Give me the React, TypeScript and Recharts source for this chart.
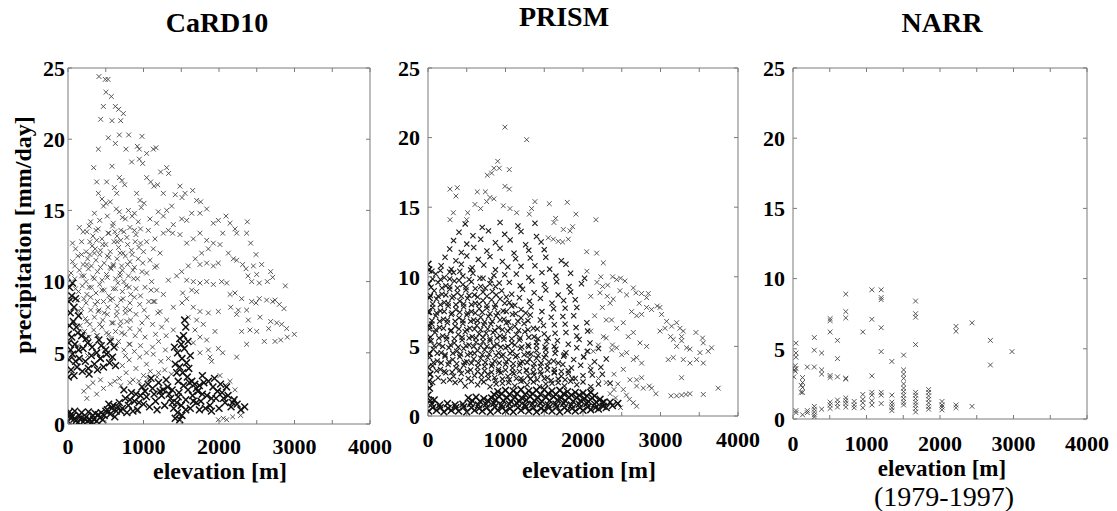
import { ScatterChart, Scatter, XAxis, YAxis } from "recharts";

const W = 1117;
const H = 511;
const AXIS = "#7a7a7a";
const SERIF = '"Liberation Serif", "Times New Roman", serif';

type Pt = [number, number];

const xTicks = [0, 500, 1000, 1500, 2000, 2500, 3000, 3500, 4000];
const yTicks = [0, 5, 10, 15, 20, 25];
const titles = ["CaRD10", "PRISM", "NARR"];
const yTitle = "precipitation [mm/day]";
const xTitle = "elevation [m]";
const period = "(1979-1997)";

// CaRD10: sparse upper fan and right tail
const card10Peak: Pt[] = [
  [410, 24.4], [494, 24.2], [530, 24.2], [503, 23.3], [574, 23.0], [468, 22.3], [627, 22.3], [671, 22.1],
  [733, 21.8], [433, 21.4], [583, 21.3], [698, 21.3], [680, 20.3], [804, 20.3], [980, 20.2], [534, 20.1],
  [627, 19.7], [768, 19.3], [402, 19.3], [918, 19.5], [945, 19.3], [1042, 19.0], [1130, 19.3], [1166, 19.4],
  [843, 18.4], [945, 18.6], [989, 18.3], [340, 18.0], [583, 18.1], [380, 17.0], [512, 17.0], [680, 17.3],
  [715, 17.1], [750, 16.8], [402, 16.2], [450, 15.8], [503, 15.5], [614, 16.6], [645, 16.2], [1042, 17.3],
  [1095, 17.0], [1139, 16.7], [1188, 16.8], [1307, 18.0], [1333, 17.6], [1227, 17.7], [909, 16.2], [954, 15.7],
  [1007, 15.5], [1483, 16.7], [1550, 16.2], [1510, 15.9], [1651, 16.4], [1704, 15.7], [1757, 15.6], [1421, 16.1],
  [1373, 15.3], [1263, 16.2],
];

const card10Tail: Pt[] = [
  [1925, 14.1], [1991, 14.3], [2093, 14.6], [2146, 14.1], [2212, 13.7], [2375, 14.2], [2234, 13.4], [2366, 13.4],
  [2419, 12.7], [2049, 13.4], [2013, 12.6], [2124, 12.0], [2190, 11.6], [2234, 11.5], [2313, 11.2], [2490, 11.9],
  [2358, 10.9], [2455, 11.1], [2565, 11.2], [2684, 10.7], [2384, 10.4], [2499, 10.5], [2433, 10.0], [2534, 9.9],
  [2640, 10.0], [2711, 10.3], [2879, 9.7], [2035, 10.0], [2102, 9.9], [2146, 9.1], [2212, 9.2], [2300, 8.8],
  [2433, 8.6], [2490, 8.5], [2534, 8.8], [2631, 8.7], [2711, 8.6], [2742, 8.7], [2799, 8.4], [2861, 8.1],
  [2155, 8.2], [2256, 8.0], [2366, 8.0], [1991, 7.9], [2234, 7.7], [2388, 7.3], [2543, 7.5], [2684, 7.2],
  [2764, 7.1], [2830, 7.0], [2896, 6.7], [2300, 6.5], [2410, 6.6], [2499, 6.5], [2658, 6.7], [2905, 6.1],
  [2998, 6.3], [2600, 5.8], [2742, 5.8], [2817, 5.9], [2366, 5.6], [1947, 6.5], [2234, 4.7], [1991, 5.3],
  [2049, 5.0], [1903, 4.4], [1859, 5.2], [2013, 3.4], [2146, 3.0], [2212, 2.4], [2084, 2.7], [1991, 0.3],
  [2057, 0.4], [2102, 0.3], [2181, 0.5], [2287, 0.6], [918, 0.9], [1748, 14.8], [1837, 15.1], [1638, 14.8],
  [1572, 14.3], [1506, 14.4], [1395, 14.0], [1386, 13.4], [1329, 13.6], [1263, 13.4], [1483, 13.3], [1572, 12.7],
  [1660, 13.0], [1748, 13.4], [1837, 12.9], [1925, 12.7], [1859, 12.3], [1770, 12.0], [1686, 11.6], [1748, 11.2],
  [1837, 11.3], [1925, 11.1], [1991, 11.3], [1594, 11.1], [1506, 10.7], [1439, 10.4], [1329, 10.1], [1572, 10.1],
  [1660, 10.0], [1748, 9.9], [1837, 10.0], [1925, 9.8], [1638, 9.4], [1704, 9.3], [1519, 9.2], [1572, 8.8],
  [1510, 8.5], [1395, 8.2], [1660, 8.2], [1748, 7.9], [1859, 7.8], [1594, 7.5], [1704, 7.3], [1792, 7.0],
  [1682, 6.6], [1748, 6.1], [1660, 5.7], [1837, 5.9], [1748, 5.0], [1881, 4.7], [1395, 6.6], [1307, 7.3],
  [1219, 7.9], [1130, 8.6], [1174, 9.4], [1263, 9.1], [1108, 10.0], [1042, 10.6], [1174, 11.1], [1086, 11.5],
  [1219, 12.0], [1130, 12.3], [1042, 12.8], [1152, 13.0], [1064, 13.6], [1174, 14.1], [1263, 14.6], [1307, 15.0],
  [1196, 14.9], [1086, 14.4],
];

// CaRD10: main cloud below 15 mm/day
const card10Cloud: Pt[] = [
  [350, 14.8], [420, 14.3], [520, 14.6], [600, 14.1], [680, 14.9], [760, 14.4], [850, 14.6], [930, 14.2],
  [300, 14.2], [470, 15.3], [560, 15.6], [640, 15.1], [720, 14.5], [800, 15.0], [880, 14.8], [970, 15.2],
  [150, 13.8], [250, 13.5], [330, 13.2], [400, 13.7], [450, 13.0], [530, 13.4], [590, 13.9], [650, 13.2],
  [700, 13.6], [780, 13.1], [820, 13.8], [900, 13.3], [960, 13.7], [280, 13.9], [620, 13.5],
  [100, 12.3], [180, 12.8], [240, 12.1], [320, 12.5], [380, 12.9], [430, 12.2], [500, 12.6], [560, 12.1],
  [610, 12.8], [670, 12.4], [730, 12.0], [790, 12.6], [840, 12.2], [890, 12.8], [940, 12.4], [1000, 12.1],
  [360, 12.3], [700, 12.9], [60, 11.4], [130, 11.8], [200, 11.2], [260, 11.6], [310, 11.1], [370, 11.5],
  [420, 11.9], [480, 11.3], [540, 11.7], [600, 11.2], [650, 11.6], [710, 11.1], [760, 11.8], [820, 11.4],
  [880, 11.0], [930, 11.6], [990, 11.3], [290, 11.9], [560, 11.0], [40, 10.6], [90, 10.2], [150, 10.8],
  [210, 10.4], [270, 10.9], [330, 10.3], [390, 10.7], [450, 10.1], [510, 10.5], [570, 10.9], [630, 10.2],
  [690, 10.6], [740, 10.0], [800, 10.4], [860, 10.8], [920, 10.2], [980, 10.7], [240, 10.0], [720, 10.8],
  [140, 9.3], [190, 9.7], [250, 9.1], [310, 9.6], [370, 9.2], [420, 9.8], [480, 9.4], [540, 9.0],
  [600, 9.5], [660, 9.9], [720, 9.3], [770, 9.7], [830, 9.1], [900, 9.5], [960, 9.0], [1020, 9.6],
  [130, 8.7], [180, 8.1], [240, 8.5], [300, 8.9], [360, 8.4], [410, 8.0], [470, 8.6], [530, 8.2],
  [590, 8.8], [650, 8.3], [700, 8.7], [760, 8.1], [820, 8.5], [880, 8.9], [950, 8.4], [1010, 8.0],
  [1070, 8.6], [170, 7.8], [230, 7.4], [290, 7.0], [350, 7.5], [400, 7.9], [460, 7.3], [520, 7.7],
  [580, 7.1], [640, 7.6], [700, 7.2], [760, 7.8], [830, 7.3], [900, 7.7], [980, 7.1], [1050, 7.5],
  [160, 6.9], [220, 6.5], [280, 6.1], [340, 6.6], [390, 6.2], [450, 6.8], [510, 6.4], [570, 6.0],
  [630, 6.5], [690, 6.9], [750, 6.3], [820, 6.7], [890, 6.2], [950, 6.6], [1020, 6.1], [1160, 6.3],
  [1240, 6.8], [670, 5.8], [740, 5.2], [810, 5.6], [880, 5.1], [960, 5.5], [1040, 5.0], [1120, 5.4],
  [1200, 5.8], [1290, 5.2], [680, 3.2], [720, 4.1], [770, 3.6], [810, 4.5], [860, 3.1], [900, 3.9],
  [950, 4.7], [1000, 3.4], [1040, 4.2], [1090, 3.7], [1130, 4.9], [1180, 3.3], [1230, 4.4], [1280, 3.8],
  [1330, 4.6], [1370, 3.5], [700, 2.7], [820, 2.9], [940, 3.0], [1060, 3.2], [1200, 3.6], [250, 1.8],
  [270, 2.6], [210, 2.3], [330, 2.9], [380, 2.1], [430, 3.1], [470, 2.5], [560, 2.8], [620, 3.0],
];

// CaRD10: second pass over the darker low-elevation cloud
const card10CloudB: Pt[] = [
  [200, 13.5], [370, 13.6], [540, 13.4], [740, 13.5], [880, 13.6], [60, 12.7], [290, 12.8], [460, 12.6],
  [650, 12.8], [960, 12.7], [180, 11.9], [350, 12.0], [520, 11.8], [690, 12.0], [850, 11.9], [90, 11.1],
  [250, 11.2], [430, 11.0], [600, 11.1], [790, 11.2], [1150, 11.0], [0, 10.3], [180, 10.4], [350, 10.2],
  [520, 10.3], [690, 10.4], [870, 10.2], [100, 9.5], [280, 9.6], [450, 9.4], [630, 9.5], [810, 9.6],
  [1100, 9.4], [40, 8.7], [210, 8.8], [390, 8.6], [560, 8.7], [730, 8.8], [1150, 8.6], [120, 7.9],
  [300, 8.0], [480, 7.8], [650, 7.9], [820, 8.0], [1190, 7.8], [70, 7.1], [250, 7.2], [420, 7.0],
  [600, 7.1], [780, 7.2], [1120, 7.0], [0, 6.3], [200, 6.4], [380, 6.2], [540, 6.3], [710, 6.4],
  [1300, 6.2], [130, 5.5], [300, 5.6], [480, 5.4], [640, 5.5], [820, 5.6], [60, 4.7], [260, 4.8],
  [420, 4.6], [580, 4.7], [760, 4.8],
];

// CaRD10: black clusters (low band, rising band, left column, spike)
const card10Dense: Pt[] = [
  [0, 0.2], [60, 0.55], [20, 0.85], [110, 0.25], [150, 0.6], [90, 0.9], [200, 0.15], [240, 0.5],
  [180, 0.8], [290, 0.3], [330, 0.6], [270, 0.85], [380, 0.2], [420, 0.45], [360, 0.75], [460, 0.3],
  [40, 0.4], [130, 0.1], [220, 0.35], [310, 0.1], [480, 0.6], [520, 1.0], [560, 0.7], [600, 1.3],
  [640, 0.9], [680, 1.5], [540, 1.4], [620, 0.5], [720, 1.1], [760, 1.8], [800, 1.3], [840, 2.2],
  [880, 1.6], [920, 1.0], [960, 2.0], [1000, 1.4], [740, 2.4], [860, 0.9], [980, 2.6], [780, 0.8],
  [1040, 1.9], [1080, 1.2], [1120, 2.5], [1160, 1.6], [1200, 2.9], [1240, 2.0], [1280, 1.3], [1320, 2.6],
  [1360, 1.8], [1400, 1.1], [1060, 2.8], [1180, 1.0], [1300, 3.1], [1380, 2.4], [1100, 3.2], [1220, 2.3],
  [1420, 0.4], [1450, 0.8], [1480, 0.3], [1510, 0.6], [1440, 1.5], [1470, 2.2], [1500, 1.3], [1530, 2.7],
  [1560, 1.7], [1590, 2.4], [1620, 1.1], [1650, 2.0], [1680, 2.8], [1460, 3.0], [1520, 3.6], [1580, 3.3],
  [1640, 3.0], [1700, 1.5], [1420, 4.2], [1450, 5.0], [1480, 4.0], [1510, 4.6], [1540, 5.3], [1570, 4.3],
  [1600, 3.9], [1440, 3.6], [1500, 5.6], [1530, 6.2], [1560, 6.8], [1545, 7.3], [1590, 5.8], [1620, 4.8],
  [1480, 6.0], [1410, 5.4], [1720, 2.3], [1760, 1.6], [1800, 2.9], [1840, 2.0], [1880, 1.3], [1920, 2.6],
  [1960, 1.8], [2000, 1.1], [2040, 2.2], [2080, 1.5], [2120, 2.0], [2160, 1.2], [2200, 1.7], [2240, 1.4],
  [2290, 1.0], [2340, 1.2], [1780, 3.4], [1860, 3.0], [1940, 3.2], [2020, 2.8], [1900, 0.9], [2100, 2.6],
  [1740, 1.0], [1820, 1.1], [5, 3.3], [40, 3.8], [80, 3.4], [120, 4.0], [15, 4.5], [60, 4.9],
  [100, 4.4], [140, 5.2], [10, 5.7], [50, 6.1], [90, 5.6], [130, 6.4], [20, 6.9], [70, 7.2],
  [110, 6.8], [30, 7.8], [80, 8.2], [10, 8.6], [50, 9.0], [100, 8.8], [20, 9.6], [60, 9.9],
  [140, 7.6], [5, 6.3], [35, 5.2], [150, 4.6], [190, 3.7], [230, 4.4], [270, 3.9], [310, 4.8],
  [350, 4.2], [390, 3.8], [430, 4.6], [470, 4.0], [510, 4.9], [550, 4.3], [590, 4.7], [630, 4.1],
  [200, 5.3], [260, 5.7], [320, 5.4], [380, 5.0], [440, 5.5], [500, 5.2], [560, 5.8], [280, 3.5],
  [410, 5.9], [610, 5.4], [180, 6.2], [240, 6.0],
  [30, 0.6], [80, 0.35], [170, 0.4], [260, 0.2], [340, 0.35], [400, 0.65], [440, 0.8], [500, 0.9],
  [580, 1.1], [660, 1.2], [700, 0.9], [820, 1.7], [900, 2.1], [940, 1.5], [1020, 2.3], [1140, 2.1],
  [1260, 2.4], [1340, 2.1], [1560, 1.0], [1660, 1.6], [1700, 2.5], [1780, 2.1], [1900, 1.8], [1980, 2.3],
  [2060, 1.8], [2180, 1.5], [1380, 1.5], [1460, 1.9], [1610, 2.9], [1740, 2.7],
];

// PRISM: outliers and right tail
const prismSparse: Pt[] = [
  [993, 20.75], [1273, 19.85], [899, 18.3], [851, 17.8], [920, 17.8], [765, 17.3], [821, 17.45], [1049, 17.7],
  [993, 16.5], [1049, 16.3], [284, 16.3], [378, 16.4], [361, 15.8], [636, 16.1], [740, 16.1], [800, 15.7],
  [757, 15.4], [851, 15.6], [679, 14.9], [606, 15.2], [512, 14.6], [499, 14.1], [327, 14.6], [284, 14.1],
  [972, 15.1], [1058, 14.9], [1144, 14.6], [1380, 15.4], [1337, 14.9], [1307, 14.5], [1565, 15.25], [1797, 15.35],
  [1909, 14.5], [2167, 14.1], [1647, 14.2], [1625, 13.9], [1746, 13.4], [1832, 13.3], [1866, 13.6], [1810, 12.7],
  [1552, 12.8], [1617, 12.7], [1681, 12.55], [1737, 12.5], [2047, 11.8], [2176, 11.7], [2262, 11.0],
  [2382, 10.0], [2434, 9.8], [2485, 9.9], [2541, 9.7], [2318, 9.4], [2253, 9.3], [2219, 8.85], [2313, 8.6],
  [2390, 8.4], [2477, 9.0], [2563, 8.7], [2649, 9.2], [2683, 8.85], [2756, 8.8], [2821, 8.5], [2843, 8.8],
  [2726, 8.1], [2821, 7.8], [2885, 7.65], [2958, 7.9], [2993, 7.8], [2627, 7.5], [2692, 7.2], [2756, 7.3],
  [3014, 7.3], [3079, 6.8], [3143, 6.45], [3208, 6.7], [3251, 6.3], [3294, 6.1], [2993, 6.1], [3058, 6.3],
  [3130, 5.7], [3272, 5.7], [3272, 5.4], [3208, 5.0], [3165, 5.5], [3337, 4.9], [3380, 4.8], [3457, 6.0],
  [3543, 5.6], [3552, 5.25], [3659, 4.9], [3616, 4.65], [3509, 4.55], [3100, 4.05], [3165, 4.2], [3294, 4.05],
  [3380, 3.8], [3466, 4.05], [3552, 3.8], [3272, 2.75], [3135, 1.45], [3208, 1.45], [3272, 1.5], [3328, 1.55],
  [3380, 1.6], [3552, 1.55], [3745, 2.0], [2885, 2.0], [2941, 1.6], [2692, 2.15], [2778, 2.0], [2855, 2.15],
  [2649, 0.95], [2692, 0.7], [2485, 0.6], [2649, 4.05], [2692, 4.2], [2756, 3.8], [2563, 4.55], [2499, 4.4],
  [2434, 4.9], [2370, 4.75], [2520, 3.35], [2606, 2.6], [2692, 2.6], [2756, 2.75], [2584, 5.7], [2649, 6.0],
  [2735, 5.25], [2821, 5.0], [2520, 6.7], [2434, 6.3], [2369, 6.9], [2262, 5.7], [2198, 5.1], [2133, 4.65],
  [2047, 4.65], [2004, 4.2], [2090, 3.6], [2400, 3.0], [2450, 2.3], [2520, 1.9], [2560, 1.5], [2600, 1.2],
  [2350, 1.6], [2420, 1.3], [2100, 8.6], [2180, 9.6], [2250, 7.8], [2300, 6.9], [2150, 7.2], [2350, 8.1],
  [2050, 10.4], [2230, 10.0], [2100, 6.1], [2300, 5.6], [2380, 5.1], [2200, 2.7], [2300, 2.4], [2100, 1.9],
  [2400, 1.9],
];

// PRISM: main cloud
const prismCloud: Pt[] = [
  [60, 2.4], [480, 2.15], [560, 2.5], [640, 2.25], [720, 2.45], [800, 2.1], [880, 2.3], [960, 2.35],
  [1040, 2.4], [1120, 2.15], [1200, 2.5], [1280, 2.25], [1360, 2.45], [1440, 2.1], [1520, 2.3], [1600, 2.35],
  [1680, 2.4], [1760, 2.15], [1840, 2.5], [1920, 2.25], [2000, 2.45], [2100, 2.1], [2200, 2.3], [2350, 2.35],
  [30, 3.0], [130, 2.75], [230, 3.1], [330, 2.85], [430, 3.05], [520, 2.7], [600, 2.9], [690, 2.95],
  [770, 3.0], [860, 2.75], [940, 3.1], [1030, 2.85], [1110, 3.05], [1200, 2.7], [1290, 2.9], [1370, 2.95],
  [1460, 3.0], [1540, 2.75], [1630, 3.1], [1720, 2.85], [1810, 3.05], [1900, 2.7], [2000, 2.9], [2120, 2.95],
  [2250, 3.0], [60, 3.6], [160, 3.35], [260, 3.7], [360, 3.45], [460, 3.65], [550, 3.3], [640, 3.5],
  [730, 3.55], [820, 3.6], [910, 3.35], [1000, 3.7], [1090, 3.45], [1180, 3.65], [1270, 3.3], [1360, 3.5],
  [1450, 3.55], [1540, 3.6], [1630, 3.35], [1740, 3.7], [1850, 3.45], [1970, 3.65], [2100, 3.3], [2230, 3.5],
  [20, 4.2], [120, 3.95], [220, 4.3], [320, 4.05], [410, 4.25], [500, 3.9], [590, 4.1], [680, 4.15],
  [770, 4.2], [860, 3.95], [950, 4.3], [1040, 4.05], [1130, 4.25], [1220, 3.9], [1310, 4.1], [1400, 4.15],
  [1500, 4.2], [1620, 3.95], [1750, 4.3], [1880, 4.05], [2010, 4.25], [2150, 3.9], [2300, 4.1],
  [70, 4.8], [170, 4.55], [270, 4.9], [370, 4.65], [460, 4.85], [550, 4.5], [640, 4.7], [730, 4.75],
  [820, 4.8], [910, 4.55], [1000, 4.9], [1090, 4.65], [1190, 4.85], [1290, 4.5], [1400, 4.7], [1520, 4.75],
  [1650, 4.8], [1780, 4.55], [1920, 4.9], [2060, 4.65], [2200, 4.85], [40, 5.4], [140, 5.15], [240, 5.5],
  [340, 5.25], [440, 5.45], [530, 5.1], [620, 5.3], [710, 5.35], [800, 5.4], [890, 5.15], [980, 5.5],
  [1080, 5.25], [1180, 5.45], [1290, 5.1], [1400, 5.3], [1530, 5.35], [1670, 5.4], [1810, 5.15], [1950, 5.5],
  [2090, 5.25], [90, 6.0], [190, 5.75], [290, 6.1], [390, 5.85], [480, 6.05], [570, 5.7], [660, 5.9],
  [750, 5.95], [840, 6.0], [930, 5.75], [1030, 6.1], [1140, 5.85], [1250, 6.05], [1370, 5.7], [1500, 5.9],
  [1640, 5.95], [1780, 6.0], [1920, 5.75], [2060, 6.1], [50, 6.6], [150, 6.35], [250, 6.7], [350, 6.45],
  [450, 6.65], [540, 6.3], [630, 6.5], [720, 6.55], [810, 6.6], [910, 6.35], [1010, 6.7], [1120, 6.45],
  [1240, 6.65], [1360, 6.3], [1490, 6.5], [1630, 6.55], [1770, 6.6], [1910, 6.35], [2050, 6.7],
  [100, 7.2], [200, 6.95], [300, 7.3], [400, 7.05], [500, 7.25], [590, 6.9], [680, 7.1], [780, 7.15],
  [880, 7.2], [980, 6.95], [1090, 7.3], [1200, 7.05], [1320, 7.25], [1450, 6.9], [1590, 7.1], [1740, 7.15],
  [1880, 7.2], [60, 7.8], [160, 7.55], [260, 7.9], [360, 7.65], [460, 7.85], [560, 7.5], [660, 7.7],
  [760, 7.75], [860, 7.8], [970, 7.55], [1080, 7.9], [1200, 7.65], [1330, 7.85], [1470, 7.5], [1620, 7.7],
  [1770, 7.75], [1920, 7.8], [110, 8.4], [210, 8.15], [310, 8.5], [410, 8.25], [510, 8.45], [610, 8.1],
  [710, 8.3], [820, 8.35], [930, 8.4], [1050, 8.15], [1180, 8.5], [1310, 8.25], [1450, 8.45], [1600, 8.1],
  [1750, 8.3], [1900, 8.35], [80, 9.0], [180, 8.75], [280, 9.1], [380, 8.85], [490, 9.05], [600, 8.7],
  [710, 8.9], [830, 8.95], [950, 9.0], [1080, 8.75], [1220, 9.1], [1370, 8.85], [1520, 9.05], [1680, 8.7],
  [1840, 8.9], [130, 9.6], [230, 9.35], [340, 9.7], [450, 9.45], [560, 9.65], [680, 9.3], [800, 9.5],
  [920, 9.55], [1050, 9.6], [1190, 9.35], [1340, 9.7], [1500, 9.45], [1660, 9.65], [1820, 9.3], [1980, 9.5],
  [100, 10.2], [210, 9.95], [330, 10.3], [450, 10.05], [580, 10.25], [710, 9.9], [850, 10.1], [990, 10.15],
  [1140, 10.2], [1300, 9.95], [1470, 10.3], [1650, 10.05], [1840, 10.25], [2020, 9.9], [170, 10.8], [300, 10.55],
  [430, 10.9], [570, 10.65], [720, 10.85], [870, 10.5], [1030, 10.7], [1200, 10.75], [1380, 10.8], [1570, 10.55],
  [1780, 10.9], [220, 11.4], [360, 11.15], [500, 11.5], [650, 11.25], [800, 11.45], [960, 11.1], [1130, 11.3],
  [1320, 11.35], [1520, 11.4], [1720, 11.15], [280, 12.0], [430, 11.75], [590, 12.1], [760, 11.85], [930, 12.05],
  [1110, 11.7], [1300, 11.9], [1500, 11.95], [330, 12.6], [500, 12.35], [680, 12.7], [870, 12.45], [1060, 12.65],
  [1260, 12.3], [1460, 12.5], [400, 13.2], [580, 12.95], [780, 13.3], [990, 13.05], [1200, 13.25], [1400, 12.9],
  [480, 13.8], [700, 13.55], [930, 13.9], [1160, 13.65], [1380, 13.85],
];

// PRISM: second pass filling the mid-elevation part of the cloud
const prismCloudB: Pt[] = [
  [690, 2.6], [780, 2.7], [870, 2.55], [960, 2.65], [1050, 2.6], [1140, 2.7], [1230, 2.55], [1320, 2.65],
  [1410, 2.6], [1500, 2.7], [1590, 2.55], [1680, 2.65], [1770, 2.6], [1860, 2.7],
  [640, 3.2], [730, 3.25], [820, 3.15], [910, 3.2], [1000, 3.3], [1090, 3.15], [1180, 3.2], [1270, 3.25],
  [1360, 3.15], [1450, 3.2], [1540, 3.3], [1630, 3.15], [1720, 3.2], [1810, 3.25],
  [650, 3.8], [740, 3.85], [830, 3.75], [920, 3.8], [1010, 3.9], [1100, 3.75], [1190, 3.8], [1280, 3.85],
  [1370, 3.75], [1460, 3.8], [1560, 3.9], [1680, 3.8],
  [700, 4.4], [790, 4.45], [880, 4.35], [970, 4.4], [1060, 4.5], [1150, 4.35], [1240, 4.4], [1330, 4.45],
  [1420, 4.35], [1520, 4.4], [1640, 4.5], [1760, 4.4],
  [760, 5.0], [850, 5.05], [940, 4.95], [1030, 5.0], [1120, 5.1], [1210, 4.95], [1300, 5.0], [1400, 5.05],
  [1510, 4.95], [1630, 5.0], [620, 5.6], [710, 5.65], [800, 5.55], [890, 5.6], [980, 5.7], [1080, 5.55],
  [1190, 5.6], [1300, 5.65], [1420, 5.55], [1550, 5.6], [680, 6.2], [770, 6.25], [860, 6.15], [960, 6.2],
  [1060, 6.3], [1170, 6.15], [1290, 6.2], [1410, 6.25], [550, 6.8], [640, 6.85], [730, 6.75], [830, 6.8],
  [930, 6.9], [1040, 6.75], [1160, 6.8], [1290, 6.85], [610, 7.4], [700, 7.45], [800, 7.35], [900, 7.4],
  [1010, 7.5], [1130, 7.35], [1260, 7.4], [560, 8.0], [660, 8.05], [760, 7.95], [870, 8.0], [990, 8.1],
  [1120, 7.95], [430, 8.6], [530, 8.65], [640, 8.55], [760, 8.6], [880, 8.7], [1010, 8.55], [380, 9.2],
  [490, 9.25], [610, 9.15], [740, 9.2], [870, 9.3], [160, 9.8], [280, 9.85], [400, 9.75], [530, 9.8],
  [670, 9.9], [810, 9.75], [50, 10.4], [160, 10.45], [280, 10.35], [410, 10.4], [550, 10.5],
];

// PRISM: extra fill in the dark low-elevation part of the cloud
const prismCore: Pt[] = [
  [200, 2.5], [280, 2.6], [350, 2.4], [420, 2.55], [110, 3.25], [210, 3.2], [310, 3.15], [410, 3.3],
  [510, 3.2], [70, 3.85], [170, 3.8], [270, 3.9], [370, 3.75], [470, 3.85], [560, 3.8], [20, 4.45],
  [120, 4.5], [220, 4.4], [320, 4.5], [420, 4.45], [510, 4.4], [600, 4.5], [80, 5.05], [190, 5.0],
  [290, 5.1], [390, 4.95], [490, 5.05], [590, 5.0], [680, 5.05], [30, 5.65], [140, 5.6], [240, 5.7],
  [340, 5.55], [440, 5.65], [530, 5.6], [20, 6.25], [100, 6.2], [200, 6.3], [300, 6.15], [400, 6.25],
  [500, 6.2], [600, 6.25], [50, 6.85], [150, 6.8], [250, 6.9], [350, 6.8], [450, 6.85], [20, 7.45],
  [110, 7.4], [210, 7.5], [310, 7.4], [410, 7.45], [510, 7.4], [60, 8.05], [160, 8.0], [260, 8.1],
  [360, 8.0], [460, 8.05], [30, 8.65], [130, 8.6], [230, 8.7], [330, 8.6], [40, 9.25], [180, 9.2],
  [280, 9.3], [60, 9.85],
];

// PRISM: solid band near zero and the column at sea level
const prismBand: Pt[] = [
  [10, 0.35], [110, 0.4], [205, 0.3], [300, 0.4], [395, 0.35], [500, 0.3], [600, 0.4], [700, 0.35],
  [805, 0.3], [900, 0.4], [1000, 0.35], [1100, 0.3], [1200, 0.4], [1300, 0.35], [1400, 0.3], [1500, 0.4],
  [1600, 0.35], [1700, 0.3], [1800, 0.4], [1900, 0.35], [2000, 0.4], [2100, 0.45], [2200, 0.5], [2300, 0.6],
  [60, 0.6], [160, 0.6], [260, 0.55], [360, 0.6], [460, 0.65], [560, 0.6], [660, 0.55], [760, 0.6],
  [860, 0.65], [960, 0.6], [1060, 0.55], [1160, 0.6], [1260, 0.65], [1360, 0.6], [1460, 0.55], [1560, 0.6],
  [1660, 0.65], [1760, 0.6], [1860, 0.55], [1960, 0.6], [2060, 0.65], [2160, 0.6], [2260, 0.7], [2380, 0.75],
  [50, 0.85], [150, 0.8], [250, 0.9], [350, 0.8], [450, 0.85], [550, 0.9], [650, 0.8], [750, 0.85],
  [850, 0.9], [950, 0.8], [1050, 0.85], [1150, 0.9], [1250, 0.8], [1350, 0.85], [1450, 0.9], [1550, 0.8],
  [1650, 0.85], [1750, 0.9], [1850, 0.8], [1950, 0.85], [2050, 0.9], [2150, 0.85], [2250, 0.95], [2350, 1.0],
  [2450, 0.9], [30, 1.1], [80, 1.15], [570, 1.1], [670, 1.05], [770, 1.1], [870, 1.15], [970, 1.1],
  [1070, 1.05], [1170, 1.1], [1270, 1.15], [1370, 1.1], [1470, 1.05], [1570, 1.1], [1670, 1.15], [1770, 1.1],
  [1870, 1.05], [1970, 1.1], [2070, 1.05], [2170, 1.0], [2270, 1.0], [520, 1.3], [620, 1.35], [720, 1.25],
  [820, 1.3], [920, 1.4], [1020, 1.3], [1120, 1.35], [1220, 1.25], [1320, 1.4], [1420, 1.3], [1520, 1.35],
  [1620, 1.4], [1720, 1.3], [1820, 1.35], [1920, 1.3], [2020, 1.25], [2120, 1.3], [2220, 1.2],
  [850, 1.55], [950, 1.6], [1050, 1.55], [1150, 1.6], [1250, 1.55], [1350, 1.6], [1450, 1.55], [1550, 1.6],
  [1650, 1.55], [1750, 1.6], [1850, 1.5], [1950, 1.5], [2050, 1.45], [2150, 1.45], [900, 1.75], [1000, 1.85],
  [1100, 1.8], [1200, 1.9], [1300, 1.8], [1400, 1.85], [1500, 1.9], [1600, 1.8], [1700, 1.85], [1800, 1.75],
  [1900, 1.7], [2000, 1.65], [2100, 1.7], [0, 1.5], [10, 2.5], [0, 3.5], [15, 4.5], [0, 5.5],
  [10, 6.5], [0, 7.5], [15, 8.5], [5, 9.5], [10, 10.5], [0, 10.9], [20, 2.0], [25, 3.0],
];

// NARR: grid-cell columns
const narrPoints: Pt[] = [
  [40, 5.4], [40, 4.7], [40, 4.4], [30, 3.8], [40, 3.6], [20, 3.5], [30, 3.4], [10, 3.0], [40, 0.6], [40, 0.45],
  [130, 2.95], [130, 2.6], [110, 2.4], [130, 2.25], [110, 1.9], [130, 1.9], [130, 0.3],
  [195, 3.7], [195, 0.6], [195, 0.45],
  [290, 5.8], [290, 4.9], [290, 3.7], [290, 0.9], [290, 0.7], [290, 0.5], [290, 0.3], [290, 0.15],
  [390, 4.7], [390, 3.5], [390, 3.2], [390, 0.7],
  [505, 7.15], [505, 7.0], [505, 6.2], [505, 3.1], [505, 2.95], [505, 1.2], [505, 1.0], [505, 0.75],
  [605, 5.6], [605, 4.3], [605, 3.0], [605, 1.35], [605, 1.1], [605, 0.85],
  [718, 8.9], [718, 7.65], [718, 7.2], [718, 2.9], [718, 2.85], [718, 1.5], [718, 1.3], [718, 1.1], [718, 0.85],
  [832, 1.25], [832, 1.0], [832, 0.8],
  [950, 6.2], [950, 1.75], [950, 1.4], [950, 1.15], [950, 0.8],
  [1073, 9.2], [1073, 7.1], [1073, 3.07], [1073, 1.9], [1073, 1.7], [1073, 1.3], [1073, 1.0],
  [1200, 9.2], [1200, 8.65], [1200, 8.5], [1200, 6.5], [1200, 4.8], [1200, 1.9], [1200, 1.7], [1200, 1.1],
  [1345, 4.1], [1345, 1.7], [1345, 1.2], [1345, 1.0], [1345, 0.8], [1345, 0.6],
  [1505, 4.55], [1505, 3.5], [1505, 3.2], [1505, 2.9], [1505, 2.5], [1505, 2.2], [1505, 1.95], [1505, 1.7],
  [1505, 1.45], [1505, 1.2], [1505, 1.0],
  [1668, 8.4], [1668, 7.5], [1668, 7.25], [1668, 5.3], [1668, 1.9], [1668, 1.7], [1668, 1.45], [1668, 1.2],
  [1668, 1.0], [1668, 0.75], [1668, 0.5],
  [1845, 2.1], [1845, 1.9], [1845, 1.65], [1845, 1.4], [1845, 1.15], [1845, 0.9], [1845, 0.7],
  [2027, 1.25], [2027, 1.0], [2027, 0.85], [2027, 0.65],
  [2218, 6.6], [2218, 6.25], [2218, 1.0], [2218, 0.8],
  [2436, 6.85], [2436, 0.9], [2686, 5.6], [2686, 3.85], [2980, 4.8],
];

const rows = (pts: Pt[]) => pts.map(([x, y]) => ({ x, y }));

function cross(half: number, width: number, color: string) {
  return (p: any) => {
    const { cx, cy } = p;
    if (typeof cx !== "number" || typeof cy !== "number") return <g />;
    return (
      <path
        d={`M${cx - half},${cy - half}L${cx + half},${cy + half}M${cx + half},${cy - half}L${cx - half},${cy + half}`}
        stroke={color}
        strokeWidth={width}
        fill="none"
      />
    );
  };
}

const light = cross(2.4, 0.9, "#444");
const mid = cross(2.6, 1.1, "#1a1a1a");
const heavy = cross(3.4, 1.5, "#111");

type Layer = { name: string; data: Pt[]; shape: (p: any) => any };
type Box = { left: number; right: number; top: number; bottom: number; xGap: number; yGap: number };

const tickText = { fontFamily: SERIF, fontWeight: 700, fontSize: 22, fill: "#000" };

// axis areas are kept small; margins put the plot box where the reference has it
const LEFT_W = 50;
const BOTTOM_H = 30;
const EDGE = 4;

function Panel({ box, layers }: { box: Box; layers: Layer[] }) {
  const bottomTick = (p: any) => {
    const v = p.payload.value;
    const ay = p.y - box.xGap;
    return (
      <g>
        <line x1={p.x} x2={p.x} y1={ay} y2={ay - 4} stroke={AXIS} />
        {v % 1000 === 0 && (
          <text x={p.x} y={p.y} dy="0.71em" textAnchor="middle" style={tickText}>
            {v}
          </text>
        )}
      </g>
    );
  };
  const leftTick = (p: any) => {
    const ax = p.x + box.yGap;
    return (
      <g>
        <line x1={ax} x2={ax + 4} y1={p.y} y2={p.y} stroke={AXIS} />
        <text x={p.x} y={p.y} dy="0.35em" textAnchor="end" style={tickText}>
          {p.payload.value}
        </text>
      </g>
    );
  };
  const topTick = (p: any) => <line x1={p.x} x2={p.x} y1={p.y} y2={p.y + 4} stroke={AXIS} />;
  const rightTick = (p: any) => <line x1={p.x} x2={p.x - 4} y1={p.y} y2={p.y} stroke={AXIS} />;

  return (
    <div style={{ position: "absolute", left: 0, top: 0 }}>
      <ScatterChart
        width={W}
        height={H}
        margin={{
          top: box.top - EDGE,
          left: box.left - LEFT_W,
          right: W - box.right - EDGE,
          bottom: H - box.bottom - BOTTOM_H,
        }}
      >
        <XAxis xAxisId="b" dataKey="x" type="number" domain={[0, 4000]} ticks={xTicks} interval={0}
          height={BOTTOM_H} tickSize={0} tickMargin={box.xGap} tickLine={false} axisLine={{ stroke: AXIS }}
          tick={bottomTick} allowDataOverflow />
        <XAxis xAxisId="t" orientation="top" dataKey="x" type="number" domain={[0, 4000]} ticks={xTicks}
          interval={0} height={EDGE} tickSize={0} tickMargin={0} tickLine={false} axisLine={{ stroke: AXIS }}
          tick={topTick} allowDataOverflow />
        <YAxis yAxisId="l" dataKey="y" type="number" domain={[0, 25]} ticks={yTicks} interval={0}
          width={LEFT_W} tickSize={0} tickMargin={box.yGap} tickLine={false} axisLine={{ stroke: AXIS }}
          tick={leftTick} allowDataOverflow />
        <YAxis yAxisId="r" orientation="right" dataKey="y" type="number" domain={[0, 25]} ticks={yTicks}
          interval={0} width={EDGE} tickSize={0} tickMargin={0} tickLine={false} axisLine={{ stroke: AXIS }}
          tick={rightTick} allowDataOverflow />
        {layers.map((l) => (
          <Scatter key={l.name} name={l.name} xAxisId="b" yAxisId="l" data={rows(l.data)}
            shape={l.shape} isAnimationActive={false} />
        ))}
      </ScatterChart>
    </div>
  );
}

const boxes: Box[] = [
  { left: 68, right: 370, top: 68, bottom: 424, xGap: 14, yGap: 3 },
  { left: 428, right: 738, top: 68, bottom: 416, xGap: 15, yGap: 8 },
  { left: 793, right: 1087, top: 68, bottom: 419, xGap: 16, yGap: 8 },
];

const labelFont = { fontFamily: SERIF, fontWeight: 700, fill: "#000" };

export default function App() {
  return (
    <div style={{ position: "absolute", left: 0, top: 0, width: W, height: H, background: "#fff" }}>
      <Panel box={boxes[0]} layers={[
        { name: "card10Cloud", data: card10Cloud, shape: light },
        { name: "card10CloudB", data: card10CloudB, shape: light },
        { name: "card10Peak", data: card10Peak, shape: light },
        { name: "card10Tail", data: card10Tail, shape: light },
        { name: "card10Dense", data: card10Dense, shape: heavy },
      ]} />
      <Panel box={boxes[1]} layers={[
        { name: "prismSparse", data: prismSparse, shape: light },
        { name: "prismCloud", data: prismCloud, shape: mid },
        { name: "prismCloudB", data: prismCloudB, shape: mid },
        { name: "prismCore", data: prismCore, shape: mid },
        { name: "prismBand", data: prismBand, shape: heavy },
      ]} />
      <Panel box={boxes[2]} layers={[{ name: "narr", data: narrPoints, shape: light }]} />
      <svg width={W} height={H} style={{ position: "absolute", left: 0, top: 0, pointerEvents: "none" }}>
        <text x={217} y={32} textAnchor="middle" style={{ ...labelFont, fontSize: 28 }}>{titles[0]}</text>
        <text x={564} y={26} textAnchor="middle" style={{ ...labelFont, fontSize: 28 }}>{titles[1]}</text>
        <text x={942} y={32} textAnchor="middle" style={{ ...labelFont, fontSize: 28 }}>{titles[2]}</text>
        <text transform="translate(31,235) rotate(-90)" textAnchor="middle" style={{ ...labelFont, fontSize: 24 }}>
          {yTitle}
        </text>
        <text x={220} y={479} textAnchor="middle" style={{ ...labelFont, fontSize: 24 }}>{xTitle}</text>
        <text x={589} y={478} textAnchor="middle" style={{ ...labelFont, fontSize: 24 }}>{xTitle}</text>
        <text x={942} y={476} textAnchor="middle" style={{ ...labelFont, fontSize: 23 }}>{xTitle}</text>
        <text x={944} y={506} textAnchor="middle" style={{ fontFamily: SERIF, fontSize: 28, fill: "#000" }}>
          {period}
        </text>
      </svg>
    </div>
  );
}
